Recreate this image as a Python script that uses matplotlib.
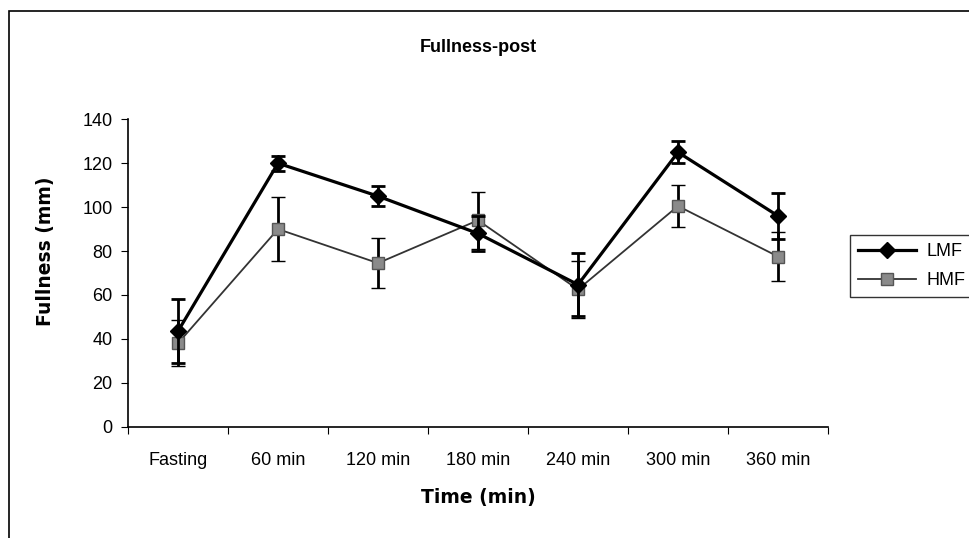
import matplotlib
matplotlib.use('Agg')
import matplotlib.pyplot as plt
from matplotlib.patches import Rectangle
from matplotlib.lines import Line2D
import numpy as np

plt.rcParams['font.family'] = ['Liberation Sans', 'DejaVu Sans']

categories = ['Fasting', '60 min', '120 min', '180 min', '240 min', '300 min', '360 min']
lmf_mean = [43.5, 120, 105, 88, 64.7, 125, 96]
lmf_err = [14.5, 3.5, 4.5, 8, 14.3, 5, 10.5]
hmf_mean = [38, 90, 74.5, 94, 62.5, 100.5, 77.5]
hmf_err = [10.5, 14.6, 11.5, 13, 12.8, 9.5, 11]

W, H = 969, 538
fig = plt.figure(figsize=(W / 100, H / 100), dpi=100)
ax = fig.add_axes([128 / W, 1 - 426.7 / H, 700 / W, (426.7 - 119.3) / H])

x = np.arange(len(categories))

hmf_style = dict(color='#333333', lw=1.3, marker='s', ms=8,
                 mfc='#8a8a8a', mec='#555555', mew=1)
lmf_style = dict(color='black', lw=2.3, marker='D', ms=8, mfc='black', mec='black')

ax.errorbar(x, hmf_mean, yerr=hmf_err, ecolor='black', elinewidth=2,
            capsize=5, capthick=2, zorder=3, **hmf_style)
ax.errorbar(x, lmf_mean, yerr=lmf_err, ecolor='black', elinewidth=2,
            capsize=5, capthick=2, zorder=4, **lmf_style)

ax.set_xlim(-0.5, 6.5)
ax.set_ylim(0, 140)
ax.set_yticks(range(0, 141, 20))
ax.set_xticks(np.arange(-0.5, 7, 1))
ax.set_xticklabels([])
ax.set_xticks(x, minor=True)
ax.set_xticklabels(categories, minor=True)
ax.tick_params(axis='x', which='minor', length=0, pad=18, labelsize=13)
ax.tick_params(axis='x', which='major', length=5, direction='out')
ax.tick_params(axis='y', length=5, direction='out', labelsize=13, pad=6)

for s in ['top', 'right']:
    ax.spines[s].set_visible(False)
for s in ['left', 'bottom']:
    ax.spines[s].set_linewidth(1.2)

ax.set_xlabel('Time (min)', fontsize=13.5, fontweight='bold', labelpad=14,
              family=['DejaVu Sans'])
ax.set_ylabel('Fullness (mm)', fontsize=13.5, fontweight='bold',
              family=['DejaVu Sans'])
ax.yaxis.set_label_coords(-0.104, 0.572)
fig.text(478 / W, 1 - 47 / H, 'Fullness-post', ha='center', va='center',
         fontsize=13, fontweight='bold')

handles = [Line2D([], [], **lmf_style), Line2D([], [], **hmf_style)]
leg = fig.legend(handles, ['LMF', 'HMF'], loc='upper left',
                 bbox_to_anchor=(850 / W, 1 - 235 / H), frameon=True,
                 fancybox=False, edgecolor='black', fontsize=13,
                 handlelength=3.2, handletextpad=0.6, borderpad=0.45,
                 labelspacing=0.65, borderaxespad=0)
leg.get_frame().set_linewidth(1)

# outer chart frame (cropped on right and bottom)
fig.patches.append(Rectangle((9 / W, -0.1), 1.2, 1 - 11 / H + 0.1,
                             transform=fig.transFigure, fill=False,
                             edgecolor='black', lw=1.2))

fig.savefig('out.png', dpi=100)
